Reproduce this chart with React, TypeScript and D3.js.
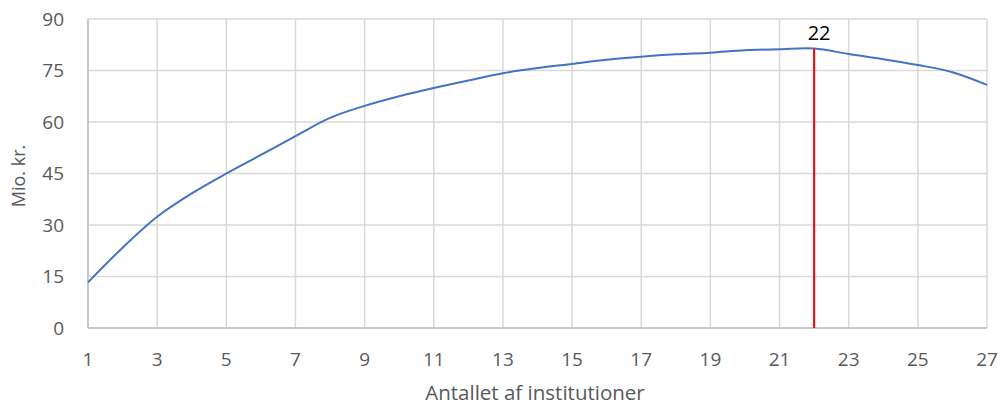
import React from "react";
import * as d3 from "d3";

const xValues = [1, 2, 3, 4, 5, 6, 7, 8, 9, 10, 11, 12, 13, 14, 15, 16, 17, 18, 19, 20, 21, 22, 23, 24, 25, 26, 27];
const yValues = [13.3, 23.4, 32.4, 39.2, 45.0, 50.4, 55.9, 61.2, 64.7, 67.5, 69.9, 72.1, 74.2, 75.7, 76.9, 78.1, 79.0, 79.7, 80.2, 80.9, 81.2, 81.4, 79.8, 78.3, 76.6, 74.5, 70.8];
const xTicks = [1, 3, 5, 7, 9, 11, 13, 15, 17, 19, 21, 23, 25, 27];
const yTicks = [0, 15, 30, 45, 60, 75, 90];
const markerX = 22;
const markerLabel = "22";
const xTitle = "Antallet af institutioner";
const yTitle = "Mio. kr.";

export default function App() {
  const W = 1002, H = 405;
  const left = 88, right = 987, top = 19, bottom = 328;
  const x = d3.scaleLinear().domain([1, 27]).range([left, right]);
  const y = d3.scaleLinear().domain([0, 90]).range([bottom, top]);
  const data = xValues.map((v, i) => [v, yValues[i]] as [number, number]);
  const line = d3.line<[number, number]>().x(d => x(d[0])).y(d => y(d[1])).curve(d3.curveCatmullRom.alpha(0.5));
  const markerY = yValues[xValues.indexOf(markerX)];
  const font = "'Open Sans', Lato, sans-serif";
  return (
    <svg width={W} height={H} style={{ position: "absolute", left: 0, top: 0 }} fontFamily={font}>
      <rect width={W} height={H} fill="#fff" />
      {yTicks.map(t => (
        <line key={"gy" + t} x1={left} x2={right} y1={y(t)} y2={y(t)} stroke="#d9d9d9" strokeWidth={1.5} />
      ))}
      {xTicks.map(t => (
        <line key={"gx" + t} x1={x(t)} x2={x(t)} y1={top} y2={bottom} stroke="#d9d9d9" strokeWidth={1.5} />
      ))}
      <line x1={left} x2={left} y1={top} y2={bottom} stroke="#bfbfbf" strokeWidth={1.5} />
      <line x1={left} x2={right} y1={bottom} y2={bottom} stroke="#bfbfbf" strokeWidth={1.5} />
      {yTicks.map(t => (
        <text key={"ly" + t} x={64} y={y(t)} dy="0.36em" textAnchor="end" fontSize={19} fill="#595959">{t}</text>
      ))}
      {xTicks.map(t => (
        <text key={"lx" + t} x={x(t)} y={366} textAnchor="middle" fontSize={19} fill="#595959">{t}</text>
      ))}
      <text x={535} y={400} textAnchor="middle" fontSize={20.5} fill="#595959">{xTitle}</text>
      <text transform={`translate(25, 176) rotate(-90)`} textAnchor="middle" fontSize={18} fill="#595959">{yTitle}</text>
      <path d={line(data) || ""} fill="none" stroke="#4472C4" strokeWidth={2} />
      <line x1={x(markerX)} x2={x(markerX)} y1={y(markerY)} y2={bottom} stroke="#ff0000" strokeWidth={2} />
      <text x={x(markerX) + 5} y={40} textAnchor="middle" fontSize={20} fill="#000">{markerLabel}</text>
    </svg>
  );
}
